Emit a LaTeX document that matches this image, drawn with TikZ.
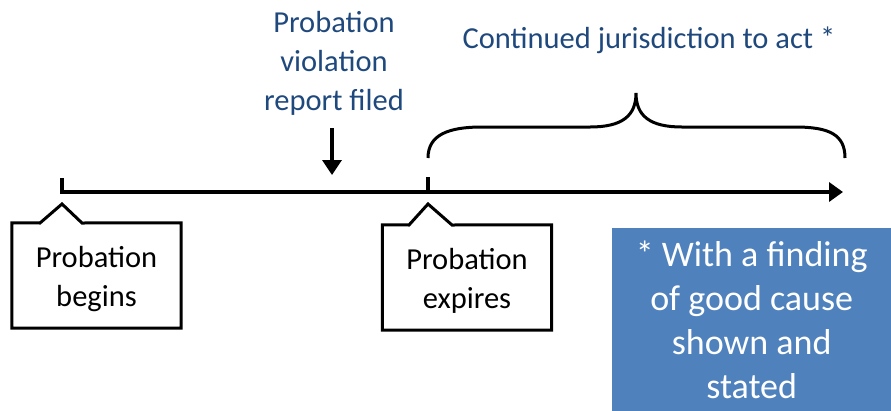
\documentclass[tikz,border=0pt]{standalone}
\usepackage{fontspec}
\setmainfont{Carlito}
\usetikzlibrary{arrows.meta}
\definecolor{textblue}{HTML}{1F497D}
\definecolor{boxblue}{HTML}{4F81BD}
\tikzset{
  labeltext/.style={text=textblue, align=center, inner sep=0pt, font=\fontsize{30.5}{39}\selectfont},
  callout/.style={minimum width=169pt, minimum height=105pt, inner sep=0pt, align=center, font=\fontsize{30.5}{39}\selectfont},
  calloutline/.style={line width=3pt, fill=white, line join=miter},
  timeline/.style={line width=4pt, -{Triangle[length=14pt, width=19pt]}},
  pointer/.style={line width=3.5pt, -{Triangle[length=15pt, width=19pt]}},
  bracket/.style={line width=3pt},
  notebox/.style={fill=boxblue, text=white, minimum width=279pt, minimum height=184pt, inner sep=0pt, align=center, font=\fontsize{36}{44}\selectfont},
}
\begin{document}
\begin{tikzpicture}[x=1pt, y=-1pt]
    \useasboundingbox (0,0) rectangle (891,410);

    % Linea de tiempo
    \coordinate (start) at (62,192);
    \coordinate (expire) at (428,192);
    \coordinate (end) at (843,192);
    \draw[timeline] (62,178) -- (start) -- (end);
    \draw[line width=4pt] (expire) -- (428,177);

    % Aviso de violacion
    \node[labeltext] (filed) at (334,63) {Probation\\violation\\report filed};
    \coordinate (reptop) at (332,128);
    \coordinate (repend) at (332,175);
    \draw[pointer] (reptop) -- (repend);

    % Llave de jurisdiccion
    \draw[bracket] (428,158) .. controls (428,135) and (448,127) .. (482,127) -- (590,127)
        .. controls (622,127) and (636,116) .. (636,93)
        .. controls (636,116) and (650,127) .. (682,127) -- (795,127)
        .. controls (830,127) and (845,135) .. (845,158);
    \node[labeltext] (jurisdiction) at (649,40) {Continued jurisdiction to act *};

    % Caja: inicio
    \node[callout] (begins) at (96.5,275.5) {};
    \draw[calloutline] (begins.north west) -- (40,223) -- (62,204) -- (82,223) -- (begins.north east)
        -- (begins.south east) -- (begins.south west) -- cycle;
    \node[callout] at ([yshift=-4pt]begins) {Probation\\begins};

    % Caja: vencimiento
    \node[callout] (expires) at (467,277.5) {};
    \draw[calloutline] (expires.north west) -- (409,225) -- (428,204) -- (452,225) -- (expires.north east)
        -- (expires.south east) -- (expires.south west) -- cycle;
    \node[callout] at ([yshift=-3pt]expires) {Probation\\expires};

    % Nota
    \node[notebox, anchor=north west] (note) at (612,228) {* With a finding\\of good cause\\shown and\\stated};
\end{tikzpicture}
\end{document}
